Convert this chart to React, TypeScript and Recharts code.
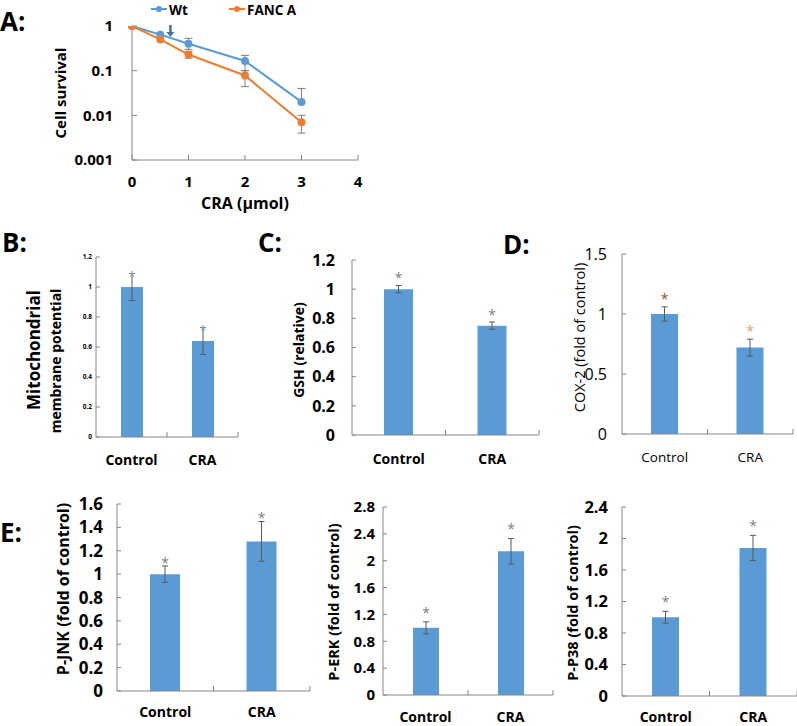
import React from 'react';
import {
  LineChart,
  Line,
  XAxis,
  YAxis,
  ErrorBar,
  Legend,
  ReferenceDot,
  BarChart,
  Bar,
  LabelList,
} from 'recharts';

// ---------- Panel A : cell survival ----------
const doses = [0, 0.5, 1, 2, 3];
const wtSurvival = [1, 0.64, 0.4, 0.165, 0.02];
const wtLower = [null, null, 0.3, 0.1, 0.019];
const wtUpper = [null, null, 0.53, 0.22, 0.04];
const fancSurvival = [1, 0.5, 0.23, 0.078, 0.007];
const fancLower = [null, null, 0.19, 0.044, 0.004];
const fancUpper = [null, null, 0.27, 0.1, 0.01];
const doseTicks = [0, 1, 2, 3, 4];
const survivalTicks = [0.001, 0.01, 0.1, 1];
const arrowDose = 0.68;
const arrowSurvival = 0.57;
const legendOrder = ['Wt', 'FANC A'];

// ---------- Panels B-E : bar charts ----------
const groups = ['Control', 'CRA'];
const mmpMean = [1.0, 0.64];
const mmpErr = [0.09, 0.09];
const mmpTicks = [0, 0.2, 0.4, 0.6, 0.8, 1, 1.2];
const gshMean = [1.0, 0.75];
const gshErr = [0.025, 0.025];
const gshTicks = [0, 0.2, 0.4, 0.6, 0.8, 1, 1.2];
const coxMean = [1.0, 0.72];
const coxErr = [0.06, 0.07];
const coxTicks = [0, 0.5, 1, 1.5];
const jnkMean = [1.0, 1.28];
const jnkErr = [0.07, 0.17];
const jnkTicks = [0, 0.2, 0.4, 0.6, 0.8, 1, 1.2, 1.4, 1.6];
const erkMean = [1.0, 2.14];
const erkErr = [0.09, 0.19];
const erkTicks = [0, 0.4, 0.8, 1.2, 1.6, 2, 2.4, 2.8];
const p38Mean = [1.0, 1.88];
const p38Err = [0.075, 0.16];
const p38Ticks = [0, 0.4, 0.8, 1.2, 1.6, 2, 2.4];

const AXIS = '#868686';
const ERR = '#595959';
const BAR = '#5b9bd5';
const WT = '#5b9bd5';
const FANC = '#ed7d31';

const errPair = (v: number, lo: number | null, hi: number | null) =>
  lo == null || hi == null ? undefined : [v - lo, hi - v];

const survivalData = doses.map((d, i) => ({
  dose: d,
  wt: wtSurvival[i],
  wtErr: errPair(wtSurvival[i], wtLower[i], wtUpper[i]),
  fanc: fancSurvival[i],
  fancErr: errPair(fancSurvival[i], fancLower[i], fancUpper[i]),
}));

const ArrowShape = (props: any) => {
  const { cx, cy } = props;
  if (cx == null || cy == null) return null;
  return (
    <g>
      <line x1={cx} x2={cx} y1={cy - 12} y2={cy - 4} stroke="#41719c" strokeWidth={2.5} />
      <path d={`M${cx - 4},${cy - 5} L${cx + 4},${cy - 5} L${cx},${cy} Z`} fill="#41719c" />
    </g>
  );
};

const SurvivalLegend = (props: any) => {
  const raw = props.payload || [];
  const items = legendOrder
    .map((name) => raw.find((it: any) => it.value === name))
    .filter(Boolean);
  const xs = [151, 229];
  return (
    <svg width={400} height={22} style={{ display: 'block', overflow: 'visible' }}>
      {items.map((it: any, i: number) => (
        <g key={i}>
          <line x1={xs[i]} x2={xs[i] + 16} y1={9} y2={9} stroke={it.color} strokeWidth={2} />
          <circle cx={xs[i] + 8} cy={9} r={3} fill={it.color} />
          <text x={xs[i] + 18} y={14.5} fontSize={13.5} fontWeight={700} fill="#000">
            {it.value}
          </text>
        </g>
      ))}
    </svg>
  );
};

const SurvivalChart = () => (
  <div style={{ position: 'absolute', left: 0, top: 0 }}>
    <LineChart
      width={400}
      height={215}
      data={survivalData}
      margin={{ top: 26, right: 42, left: 0, bottom: 5 }}
    >
      <XAxis
        dataKey="dose"
        type="number"
        domain={[0, 4]}
        ticks={doseTicks}
        interval={0}
        height={50}
        tickSize={-5}
        tickMargin={21}
        axisLine={{ stroke: AXIS }}
        tickLine={{ stroke: AXIS }}
        tick={{ fill: '#000', fontSize: 15, fontWeight: 700 }}
        label={{
          value: 'CRA (μmol)',
          content: () => (
            <text x={245} y={209} textAnchor="middle" fontSize={16} fontWeight={700} fill="#000">
              CRA (μmol)
            </text>
          ),
        }}
      />
      <YAxis
        type="number"
        scale="log"
        domain={[0.001, 1]}
        ticks={survivalTicks}
        interval={0}
        width={132}
        tickSize={-5}
        tickMargin={24}
        allowDataOverflow
        axisLine={{ stroke: AXIS }}
        tickLine={{ stroke: AXIS }}
        tick={{ fill: '#000', fontSize: 15, fontWeight: 700 }}
        label={{
          value: 'Cell survival',
          content: () => (
            <text
              transform="translate(60, 93) rotate(-90)"
              textAnchor="middle"
              dominantBaseline="central"
              fontSize={15}
              fontWeight={700}
              fill="#000"
            >
              Cell survival
            </text>
          ),
        }}
      />
      <Legend
        layout="horizontal"
        verticalAlign="middle"
        align="center"
        wrapperStyle={{ top: 0, left: 0, width: 400, height: 22 }}
        content={SurvivalLegend}
      />
      <Line
        dataKey="wt"
        name="Wt"
        stroke={WT}
        strokeWidth={2}
        dot={{ r: 3, fill: WT, stroke: WT }}
        isAnimationActive={false}
      >
        <ErrorBar dataKey="wtErr" direction="y" width={4} stroke="#7f7f7f" strokeWidth={1} />
      </Line>
      <Line
        dataKey="fanc"
        name="FANC A"
        stroke={FANC}
        strokeWidth={2}
        dot={{ r: 3, fill: FANC, stroke: FANC }}
        isAnimationActive={false}
      >
        <ErrorBar dataKey="fancErr" direction="y" width={4} stroke="#7f7f7f" strokeWidth={1} />
      </Line>
      <ReferenceDot x={arrowDose} y={arrowSurvival} r={0} shape={ArrowShape} />
    </LineChart>
  </div>
);

type BarCfg = {
  left: number;
  top: number;
  width: number;
  height: number;
  marginTop: number;
  marginRight: number;
  marginBottom: number;
  yWidth: number;
  xHeight: number;
  means: number[];
  errs: number[];
  ticks: number[];
  tickFont: number;
  tickWeight: number;
  tickMargin: number;
  barSize: number;
  catFont: number;
  catWeight: number;
  catBaseline: number;
  title: string[];
  titleX: number[];
  titleDy: number[];
  titleFont: number[];
  titleWeight: number;
  starColors: string[];
  starLift: number;
  starFont: number;
};

const BarPanel = ({ cfg }: { cfg: BarCfg }) => {
  const data = groups.map((g, i) => ({ group: g, mean: cfg.means[i], err: cfg.errs[i] }));
  const plotW = cfg.width - cfg.yWidth - cfg.marginRight;
  const bandHalf = plotW / 4;
  const plotTop = cfg.marginTop;
  const plotBottom = cfg.height - cfg.marginBottom - cfg.xHeight;
  const cy = (plotTop + plotBottom) / 2;

  const CatTick = (p: any) => {
    const { x, y, payload } = p;
    const half =
      payload && typeof payload.offset === 'number' && payload.offset > 0 ? payload.offset : bandHalf;
    return (
      <g>
        <line x1={x + half} x2={x + half} y1={y} y2={y - 5} stroke={AXIS} />
        <text
          x={x}
          y={y + cfg.catBaseline}
          textAnchor="middle"
          fontSize={cfg.catFont}
          fontWeight={cfg.catWeight}
          fill="#000"
        >
          {payload.value}
        </text>
      </g>
    );
  };

  const Title = () => (
    <g>
      {cfg.title.map((t, i) => (
        <text
          key={i}
          transform={`translate(${cfg.titleX[i]}, ${cy + cfg.titleDy[i]}) rotate(-90)`}
          textAnchor="middle"
          dominantBaseline="central"
          fontSize={cfg.titleFont[i]}
          fontWeight={cfg.titleWeight}
          fill="#000"
        >
          {t}
        </text>
      ))}
    </g>
  );

  const Star = (p: any) => {
    const vb = p.viewBox && p.viewBox.height != null ? p.viewBox : p;
    const v = Number(p.value);
    const idx = Number(p.index ?? 0);
    if (!v || vb == null) return null;
    const pxPerUnit = Number(vb.height) / v;
    const errTop = Number(vb.y) - cfg.errs[idx] * pxPerUnit;
    const fs = cfg.starFont;
    return (
      <text
        x={Number(vb.x) + Number(vb.width) / 2}
        y={errTop - cfg.starLift + fs * 0.55}
        textAnchor="middle"
        fontSize={fs}
        fill={cfg.starColors[idx % cfg.starColors.length]}
      >
        *
      </text>
    );
  };

  return (
    <div style={{ position: 'absolute', left: cfg.left, top: cfg.top }}>
      <BarChart
        width={cfg.width}
        height={cfg.height}
        data={data}
        margin={{ top: cfg.marginTop, right: cfg.marginRight, left: 0, bottom: cfg.marginBottom }}
      >
        <XAxis
          dataKey="group"
          interval={0}
          height={cfg.xHeight}
          tickSize={0}
          tickMargin={0}
          tickLine={false}
          axisLine={{ stroke: AXIS }}
          tick={CatTick}
        />
        <YAxis
          type="number"
          domain={[0, cfg.ticks[cfg.ticks.length - 1]]}
          ticks={cfg.ticks}
          interval={0}
          width={cfg.yWidth}
          tickSize={-4}
          tickMargin={cfg.tickMargin}
          axisLine={{ stroke: AXIS }}
          tickLine={{ stroke: AXIS }}
          tick={{ fill: '#000', fontSize: cfg.tickFont, fontWeight: cfg.tickWeight }}
          label={{ value: cfg.title.join(' '), content: Title }}
        />
        <Bar dataKey="mean" fill={BAR} barSize={cfg.barSize} isAnimationActive={false}>
          <ErrorBar dataKey="err" direction="y" width={3} stroke={ERR} strokeWidth={1} />
          <LabelList dataKey="mean" content={Star} />
        </Bar>
      </BarChart>
    </div>
  );
};

const cfgB: BarCfg = {
  left: 0, top: 225, width: 260, height: 260,
  marginTop: 32, marginRight: 22, marginBottom: 8, yWidth: 96, xHeight: 40,
  means: mmpMean, errs: mmpErr, ticks: mmpTicks,
  tickFont: 6.5, tickWeight: 700, tickMargin: 8, barSize: 22,
  catFont: 14, catWeight: 700, catBaseline: 28,
  title: ['Mitochondrial', 'membrane potential'], titleX: [33, 55], titleDy: [3, 14],
  titleFont: [17, 14], titleWeight: 700,
  starColors: ['#8497b0', '#8497b0'], starLift: 0, starFont: 13,
};

const cfgC: BarCfg = {
  left: 260, top: 225, width: 283, height: 260,
  marginTop: 35, marginRight: 4, marginBottom: 10, yWidth: 92, xHeight: 40,
  means: gshMean, errs: gshErr, ticks: gshTicks,
  tickFont: 16, tickWeight: 700, tickMargin: 21, barSize: 29,
  catFont: 14, catWeight: 700, catBaseline: 28.5,
  title: ['GSH (relative)'], titleX: [38], titleDy: [2.5], titleFont: [14], titleWeight: 700,
  starColors: ['#7f7f7f', '#7f7f7f'], starLift: 10, starFont: 14,
};

const cfgD: BarCfg = {
  left: 540, top: 225, width: 257, height: 260,
  marginTop: 29, marginRight: 4, marginBottom: 11, yWidth: 82, xHeight: 40,
  means: coxMean, errs: coxErr, ticks: coxTicks,
  tickFont: 16, tickWeight: 500, tickMargin: 19, barSize: 27,
  catFont: 13.5, catWeight: 500, catBaseline: 28,
  title: ['COX-2 (fold of control)'], titleX: [39], titleDy: [-6.5], titleFont: [14.5], titleWeight: 500,
  starColors: ['#a0522d', '#d9a066'], starLift: 11, starFont: 14,
};

const cfgE1: BarCfg = {
  left: 0, top: 490, width: 315, height: 236,
  marginTop: 14, marginRight: 5, marginBottom: 5, yWidth: 117, xHeight: 30,
  means: jnkMean, errs: jnkErr, ticks: jnkTicks,
  tickFont: 17, tickWeight: 700, tickMargin: 18, barSize: 30,
  catFont: 14, catWeight: 700, catBaseline: 26,
  title: ['P-JNK (fold of control)'], titleX: [63], titleDy: [-8.5], titleFont: [16], titleWeight: 700,
  starColors: ['#7f7f7f', '#7f7f7f'], starLift: 6, starFont: 14,
};

const cfgE2: BarCfg = {
  left: 300, top: 490, width: 258, height: 236,
  marginTop: 17, marginRight: 5, marginBottom: 1, yWidth: 83, xHeight: 30,
  means: erkMean, errs: erkErr, ticks: erkTicks,
  tickFont: 15, tickWeight: 700, tickMargin: 12, barSize: 26,
  catFont: 14, catWeight: 700, catBaseline: 27,
  title: ['P-ERK  (fold of control)'], titleX: [33], titleDy: [1], titleFont: [14.5], titleWeight: 700,
  starColors: ['#7f7f7f', '#7f7f7f'], starLift: 12, starFont: 14,
};

const cfgE3: BarCfg = {
  left: 540, top: 490, width: 257, height: 236,
  marginTop: 17, marginRight: 0, marginBottom: 0, yWidth: 82, xHeight: 30,
  means: p38Mean, errs: p38Err, ticks: p38Ticks,
  tickFont: 16.5, tickWeight: 700, tickMargin: 18, barSize: 27,
  catFont: 14, catWeight: 700, catBaseline: 26,
  title: ['P-P38  (fold of control)'], titleX: [32], titleDy: [1.5], titleFont: [14.5], titleWeight: 700,
  starColors: ['#7f7f7f', '#7f7f7f'], starLift: 12, starFont: 14,
};

const panelLetters = [
  { text: 'A:', left: 0, center: 22 },
  { text: 'B:', left: 2, center: 243 },
  { text: 'C:', left: 258, center: 243 },
  { text: 'D:', left: 503, center: 245 },
  { text: 'E:', left: 0, center: 533 },
];

export default function App() {
  return (
    <div
      style={{
        position: 'absolute',
        left: 0,
        top: 0,
        width: 797,
        height: 726,
        background: '#fff',
        fontFamily: "'Open Sans', sans-serif",
        overflow: 'hidden',
      }}
    >
      <SurvivalChart />
      <BarPanel cfg={cfgB} />
      <BarPanel cfg={cfgC} />
      <BarPanel cfg={cfgD} />
      <BarPanel cfg={cfgE1} />
      <BarPanel cfg={cfgE2} />
      <BarPanel cfg={cfgE3} />
      {panelLetters.map((l) => (
        <div
          key={l.text}
          style={{
            position: 'absolute',
            left: l.left,
            top: l.center - 14,
            fontSize: 26,
            lineHeight: 1,
            fontWeight: 700,
            color: '#000',
          }}
        >
          {l.text}
        </div>
      ))}
    </div>
  );
}
